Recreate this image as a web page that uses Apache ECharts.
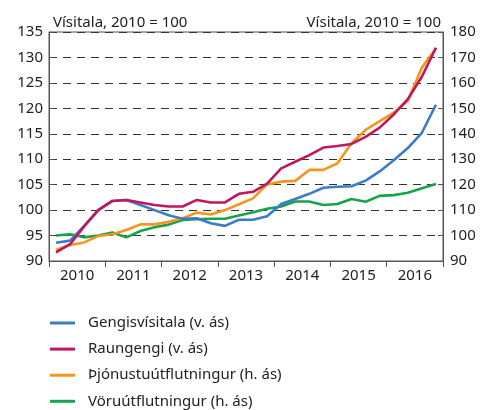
<!DOCTYPE html>
<html>
<head>
<meta charset="utf-8">
<script src="https://cdn.jsdelivr.net/npm/echarts@6/dist/echarts.min.js"></script>
<style>
html,body{margin:0;padding:0;background:#fff;}
#chart{width:492px;height:410px;}
</style>
</head>
<body>
<div id="chart"></div>
<script>
var years = ['2010','2011','2012','2013','2014','2015','2016'];
var quarters = [];
years.forEach(function(y){ for (var q=1;q<=4;q++) quarters.push(y+'Q'+q); });

var leftTitle = 'Vísitala, 2010 = 100';
var rightTitle = 'Vísitala, 2010 = 100';

var nameGengis = 'Gengisvísitala (v. ás)';
var nameRaun = 'Raungengi (v. ás)';
var nameThjon = 'Þjónustuútflutningur (h. ás)';
var nameVoru = 'Vöruútflutningur (h. ás)';

// left axis (2010 = 100)
var gengisvisitala = [93.6, 94.0, 96.9, 100.0, 101.8, 102.0, 101.0, 100.0,
                      99.0, 98.3, 98.4, 97.4, 96.9, 98.1, 98.1, 98.8,
                      101.2, 102.2, 103.2, 104.4, 104.6, 104.7, 105.8, 107.6,
                      109.8, 112.2, 115.2, 120.7];
var raungengi = [91.7, 93.3, 96.8, 100.0, 101.8, 102.0, 101.5, 101.0,
                 100.7, 100.7, 102.0, 101.5, 101.5, 103.2, 103.6, 105.2,
                 108.2, 109.5, 110.8, 112.3, 112.6, 113.0, 114.4, 116.2,
                 118.8, 121.8, 126.2, 131.9];
// right axis
var thjonustuutflutningur = [94.3, 96.3, 97.3, 99.8, 100.5, 102.2, 104.4, 104.4,
                             105.4, 106.8, 109.0, 108.3, 110.0, 112.3, 114.6, 120.1,
                             121.2, 121.5, 125.8, 125.8, 128.4, 136.3, 141.5, 145.0,
                             148.3, 153.0, 166.0, 173.6];
var voruutflutningur = [100.0, 100.5, 99.3, 100.0, 101.2, 99.3, 101.8, 103.3,
                        104.3, 106.1, 106.4, 106.6, 106.6, 107.9, 109.2, 110.5,
                        111.4, 113.4, 113.4, 112.0, 112.4, 114.4, 113.3, 115.6,
                        115.9, 116.8, 118.6, 120.3];

var FONT = 'Noto Sans';
var axisCol = '#555555';
var txtCol = '#222222';

var chart = echarts.init(document.getElementById('chart'), null, {renderer:'canvas'});

function ser(name, data, color, yIdx) {
  return {
    name: name, type: 'line', data: data,
    xAxisIndex: 1, yAxisIndex: yIdx,
    symbol: 'none', smooth: false,
    lineStyle: {color: color, width: 2.6},
    itemStyle: {color: color},
    animation: false
  };
}

var legendNames = [nameGengis, nameRaun, nameThjon, nameVoru];
var legends = legendNames.map(function(n, i){
  return {
    orient: 'horizontal', left: 50, top: 314 + i * 26.1, padding: 0,
    itemWidth: 25, itemHeight: 3,
    icon: 'rect',
    textStyle: {fontFamily: FONT, fontSize: 15, lineHeight: 18, color: txtCol, padding: [0,0,0,8]},
    data: [n]
  };
});

chart.setOption({
  animation: false,
  textStyle: {fontFamily: FONT},
  grid: {left: 49, right: 49, top: 32, bottom: 149, show: true, borderColor: axisCol, borderWidth: 1},
  title: [
    {text: leftTitle, left: 48, top: 10, textStyle: {fontFamily: FONT, fontSize: 15, fontWeight: 'normal', color: txtCol}},
    {text: rightTitle, right: 46, top: 10, textStyle: {fontFamily: FONT, fontSize: 15, fontWeight: 'normal', color: txtCol}}
  ],
  legend: legends,
  xAxis: [
    {type: 'category', data: years, boundaryGap: true, position: 'bottom',
     axisLine: {show: true, lineStyle: {color: axisCol, width: 1}},
     axisTick: {show: true, inside: false, length: 6, lineStyle: {color: axisCol}},
     axisLabel: {fontFamily: FONT, fontSize: 15, color: txtCol, margin: 7},
     splitLine: {show: false}},
    {type: 'category', data: quarters, boundaryGap: true, show: false, position: 'bottom'}
  ],
  yAxis: [
    {type: 'value', min: 90, max: 135, interval: 5, position: 'left',
     axisLine: {show: true, lineStyle: {color: axisCol, width: 1}},
     axisTick: {show: true, inside: true, length: 5, lineStyle: {color: axisCol}},
     axisLabel: {fontFamily: FONT, fontSize: 15, color: txtCol, margin: 6},
     splitLine: {show: true, lineStyle: {color: '#333333', width: 1, type: [8, 6]}}},
    {type: 'value', min: 90, max: 180, interval: 10, position: 'right',
     axisLine: {show: true, lineStyle: {color: axisCol, width: 1}},
     axisTick: {show: true, inside: true, length: 5, lineStyle: {color: axisCol}},
     axisLabel: {fontFamily: FONT, fontSize: 15, color: txtCol, margin: 7},
     splitLine: {show: false}}
  ],
  series: [
    ser(nameVoru, voruutflutningur, '#17a34a', 1),
    ser(nameThjon, thjonustuutflutningur, '#f7941d', 1),
    ser(nameGengis, gengisvisitala, '#3b7cc6', 0),
    ser(nameRaun, raungengi, '#c0175d', 0)
  ]
});
</script>
</body>
</html>
